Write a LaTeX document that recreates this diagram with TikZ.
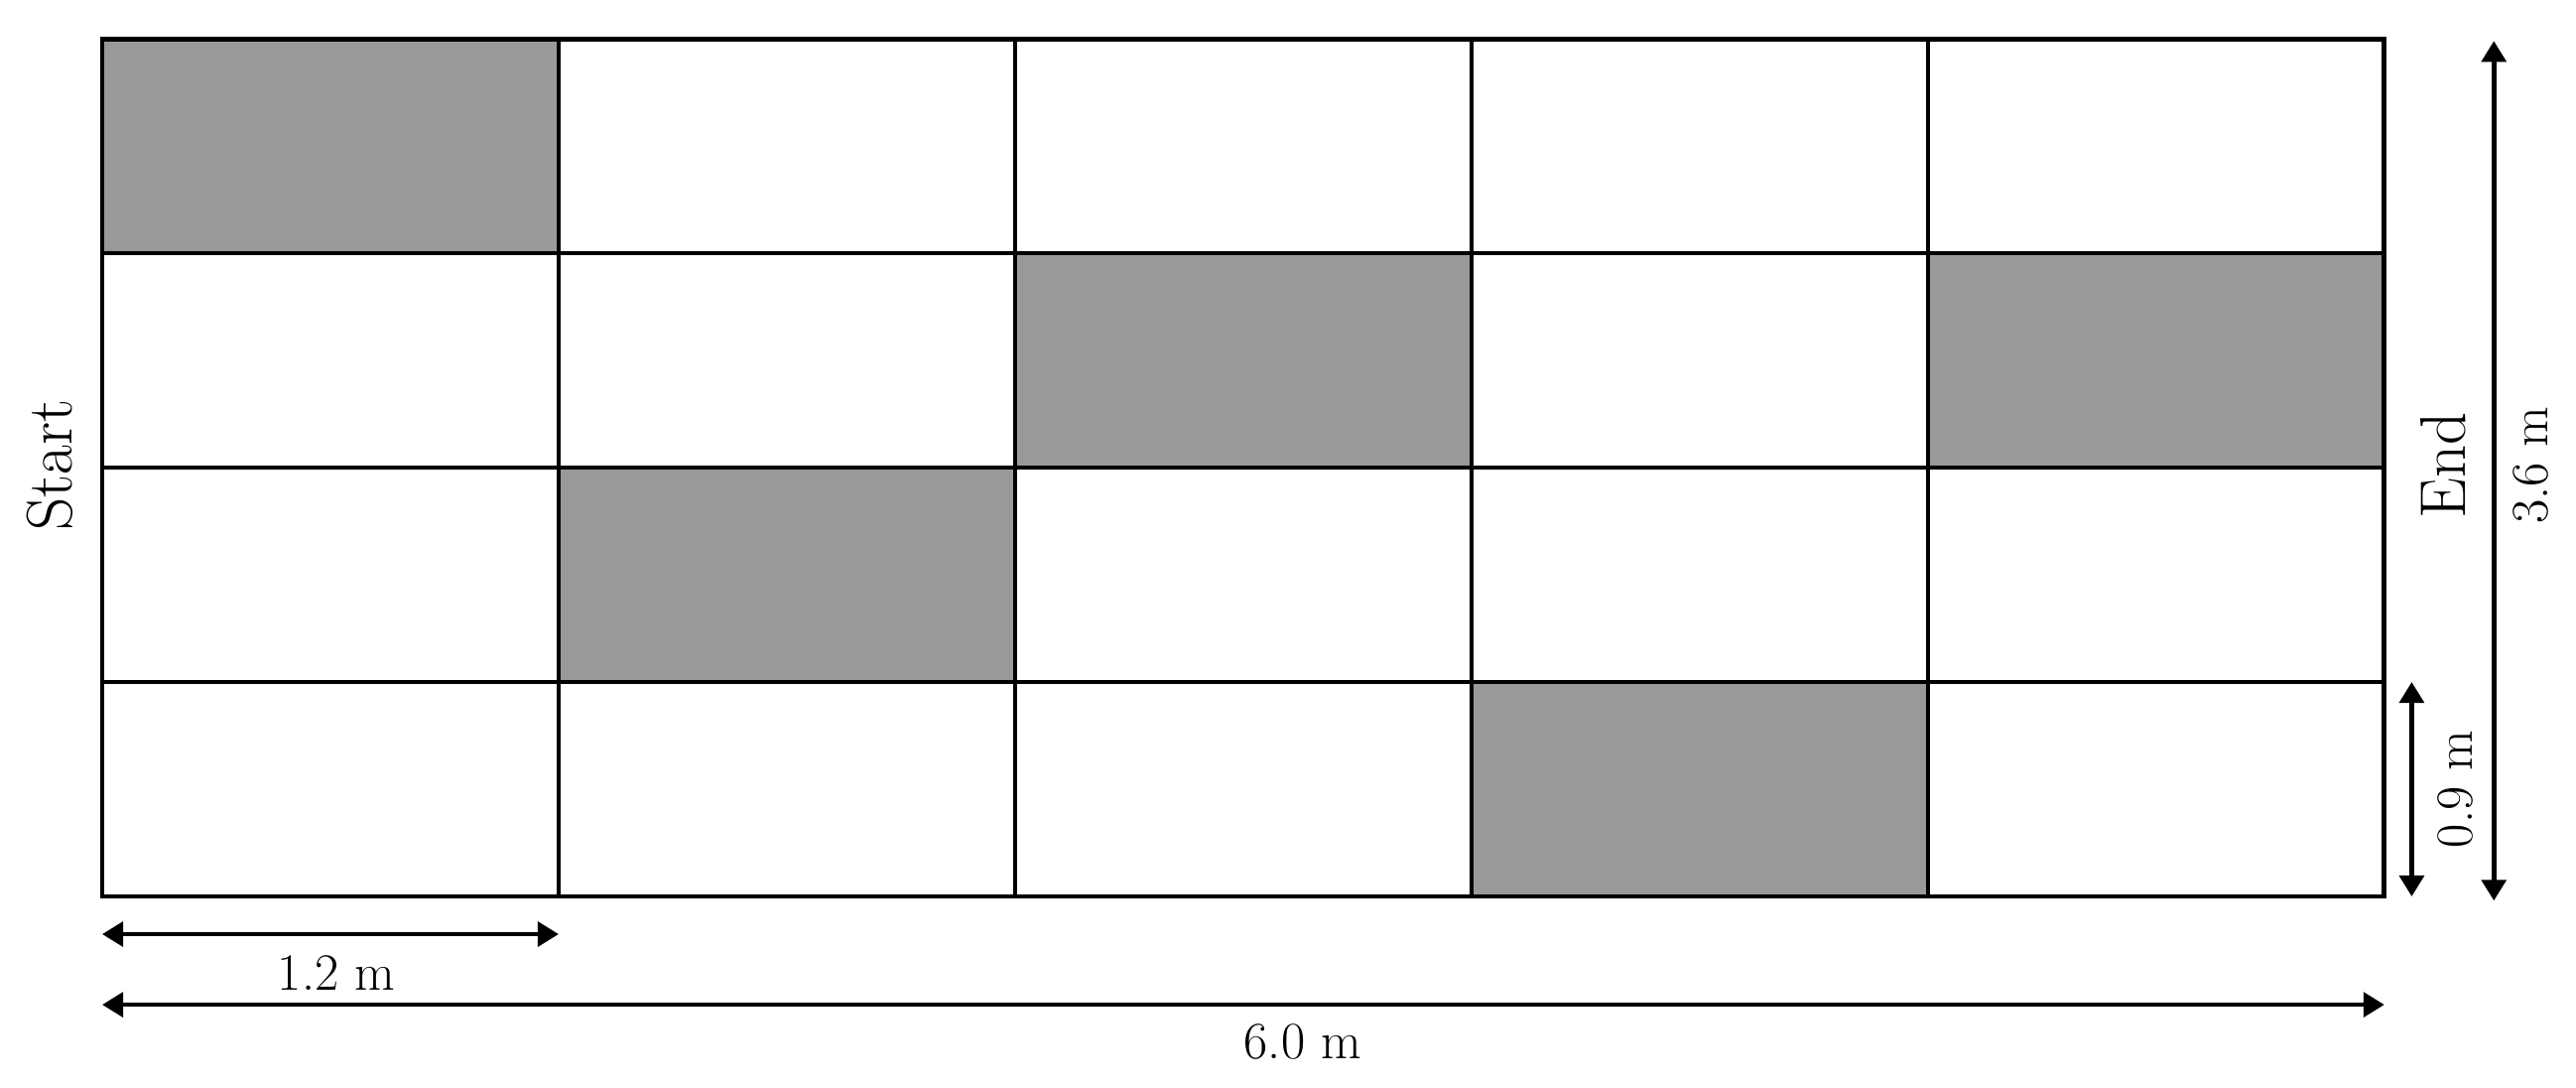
\documentclass[tikz,border=0pt]{standalone}
\usetikzlibrary{arrows.meta}
\tikzset{
  dim/.style={line width=1.3pt,{Triangle[width=7pt,length=6pt]}-{Triangle[width=7pt,length=6pt]}},
  lbl/.style={font=\fontsize{15}{18}\selectfont,inner sep=0pt},
  side/.style={font=\fontsize{18.5}{22}\selectfont,inner sep=0pt,rotate=90}
}
\begin{document}
\begin{tikzpicture}[x=4.6cm,y=2.16cm]
\useasboundingbox (-0.224,-0.889) rectangle (5.42,4.181);
\foreach \c/\r in {0/3,2/2,4/2,1/1,3/0} \fill[black!40] (\c,\r) rectangle +(1,1);
\foreach \i in {1,...,4} \draw[line width=1.2pt] (\i,0) -- (\i,4);
\foreach \j in {1,2,3} \draw[line width=1.2pt] (0,\j) -- (5,\j);
\draw[line width=1.4pt] (0,0) rectangle (5,4);
\coordinate (a12) at (0,-0.176); \coordinate (b12) at (1,-0.176);
\coordinate (a60) at (0,-0.505); \coordinate (b60) at (5,-0.505);
\coordinate (a09) at (5.06,0); \coordinate (b09) at (5.06,1);
\coordinate (a36) at (5.24,-0.02); \coordinate (b36) at (5.24,3.99);
\draw[dim] (a12) -- (b12);
\draw[dim] (a60) -- (b60);
\draw[dim] (a09) -- (b09);
\draw[dim] (a36) -- (b36);
\node[lbl] (l12) at (0.513,-0.356) {1.2 m};
\node[lbl] (l60) at (2.63,-0.68) {6.0 m};
\node[lbl,rotate=90] (l09) at (5.155,0.5) {0.9 m};
\node[lbl,rotate=90] (l36) at (5.32,2.01) {3.6 m};
\node[side] (start) at (-0.115,2.01) {Start};
\node[side] (end) at (5.13,2.01) {End};
\end{tikzpicture}
\end{document}
